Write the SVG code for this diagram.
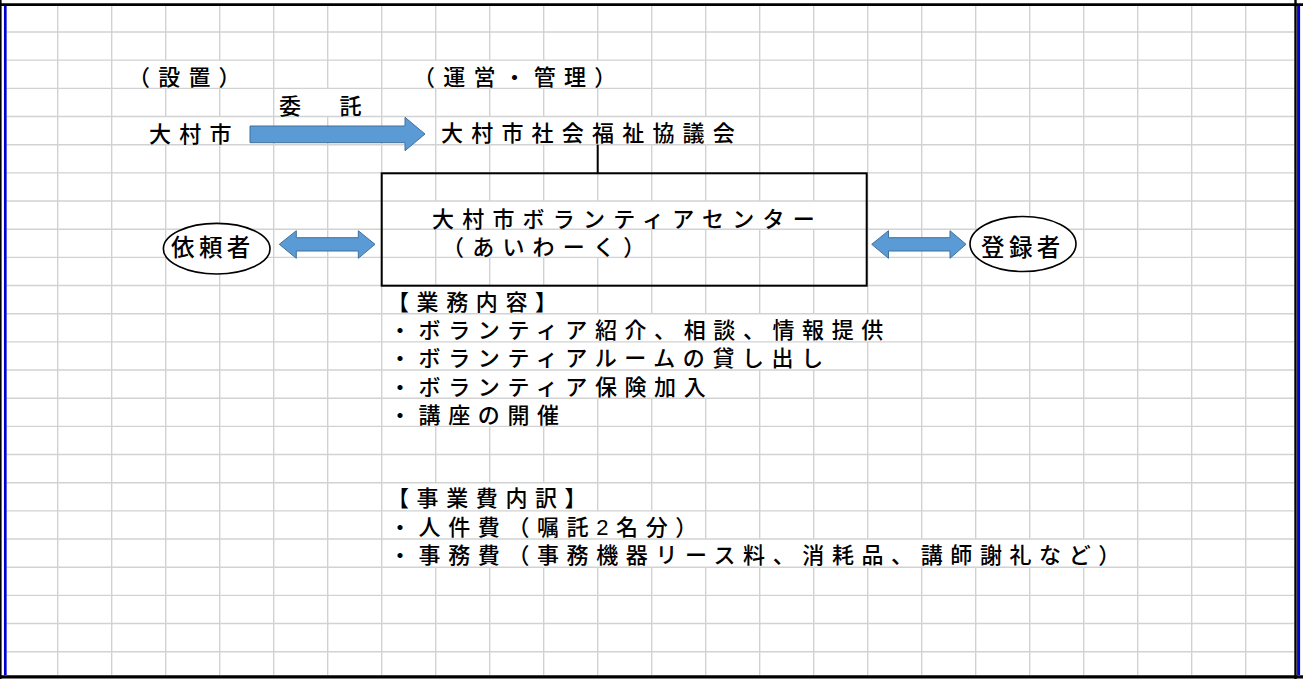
<svg xmlns="http://www.w3.org/2000/svg" width="1303" height="679" viewBox="0 0 1303 679">
<style>
.grid{stroke:#d2d2d2;stroke-width:1.4;fill:none}
.t{font-family:"Liberation Sans","Noto Sans CJK JP","Noto Sans CJK SC",sans-serif;font-size:22px;font-weight:500;letter-spacing:8.2px;fill:#000}
.b{letter-spacing:7.6px}
.e{font-size:23.5px;letter-spacing:4.4px}
.arrow{fill:#5b9bd5;stroke:#41719c;stroke-width:1}
.node{fill:#fff;stroke:#000;stroke-width:1.6}
.box{fill:none;stroke:#000;stroke-width:2}
</style>
<rect x="0" y="0" width="1303" height="679" fill="#fff"/>
<g id="grid" class="grid">
<path d="M7 32H1294M7 60.17H1294M7 88.34H1294M7 116.51H1294M7 144.68H1294M7 172.85H1294M7 201.02H1294M7 229.19H1294M7 257.36H1294M7 285.53H1294M7 313.7H1294M7 341.87H1294M7 370.04H1294M7 398.21H1294M7 426.38H1294M7 454.55H1294M7 482.72H1294M7 510.89H1294M7 539.06H1294M7 567.23H1294M7 595.4H1294M7 623.57H1294M7 651.74H1294"/>
<path d="M57.7 6V675M111.7 6V675M273.7 6V675M381.7 6V675M1137.7 6V675M1191.7 6V675M1245.7 6V675"/>
<path d="M165.7 6V60.17M165.7 88.34V116.51M165.7 144.68V675M219.7 6V60.17M219.7 88.34V116.51M219.7 144.68V675"/>
<path d="M327.7 6V88.34M327.7 116.51V675"/>
<path d="M435.7 6V60.17M435.7 88.34V201.02M435.7 229.19V285.53M435.7 426.38V482.72M435.7 567.23V675"/>
<path d="M489.7 6V60.17M489.7 88.34V116.51M489.7 144.68V201.02M489.7 257.36V285.53M489.7 426.38V482.72M489.7 567.23V675"/>
<path d="M543.7 6V60.17M543.7 88.34V116.51M543.7 144.68V201.02M543.7 257.36V285.53M543.7 426.38V482.72M543.7 567.23V675"/>
<path d="M597.7 6V60.17M597.7 88.34V116.51M597.7 144.68V201.02M597.7 257.36V313.7M597.7 398.21V510.89M597.7 567.23V675"/>
<path d="M651.7 6V116.51M651.7 144.68V201.02M651.7 229.19V313.7M651.7 398.21V510.89M651.7 567.23V675"/>
<path d="M705.7 6V116.51M705.7 144.68V201.02M705.7 229.19V313.7M705.7 398.21V539.06M705.7 567.23V675"/>
<path d="M759.7 6V201.02M759.7 229.19V313.7M759.7 370.04V539.06M759.7 567.23V675M813.7 6V201.02M813.7 229.19V313.7M813.7 370.04V539.06M813.7 567.23V675"/>
<path d="M867.7 6V313.7M867.7 341.87V539.06M867.7 567.23V675"/>
<path d="M921.7 6V539.06M921.7 567.23V675M975.7 6V539.06M975.7 567.23V675M1029.7 6V539.06M1029.7 567.23V675M1083.7 6V539.06M1083.7 567.23V675"/>
</g>
<g id="frame">
<line x1="0" y1="4.7" x2="1303" y2="4.7" stroke="#000" stroke-width="2.7"/>
<line x1="0" y1="676.8" x2="1303" y2="676.8" stroke="#000" stroke-width="3.3"/>
<line x1="0.8" y1="0" x2="0.8" y2="679" stroke="#000" stroke-width="1.6"/>
<line x1="5.3" y1="6" x2="5.3" y2="675" stroke="#0000d0" stroke-width="2.7"/>
<line x1="1295.5" y1="0" x2="1295.5" y2="679" stroke="#000" stroke-width="2.4"/>
<line x1="1298.6" y1="6" x2="1298.6" y2="675" stroke="#0000d0" stroke-width="3"/>
</g>
<g id="connectors">
<line x1="597.7" y1="144.7" x2="597.7" y2="173.3" stroke="#000" stroke-width="2"/>
<polygon class="arrow" points="250,126 405,126 405,117.3 425,134 405,150.7 405,142.7 250,142.7"/>
<polygon class="arrow" points="279.3,244.3 296.3,230.7 296.3,237.7 358.3,237.7 358.3,230.7 375,244.3 358.3,258.3 358.3,251 296.3,251 296.3,258.3"/>
<polygon class="arrow" points="871.7,244.3 888.5,230.7 888.5,237.7 950,237.7 950,230.7 966,244.3 950,258.3 950,251 888.5,251 888.5,258.3"/>
</g>
<g id="labels">
<text class="t" x="128" y="85">（設置）</text>
<text class="t" x="413" y="85">（運営・管理）</text>
<text class="t" x="279" y="114">委　託</text>
</g>
<g id="omura-city"><text class="t" x="149" y="142">大村市</text></g>
<g id="council"><text class="t" x="441" y="141">大村市社会福祉協議会</text></g>
<g id="center">
<rect class="box" x="381.7" y="173.3" width="485" height="112.4"/>
<text class="t"><tspan x="432" y="227">大村市ボランティアセンター</tspan><tspan x="442" y="255">（あいわーく）</tspan></text>
</g>
<g id="requester">
<ellipse class="node" cx="216.7" cy="248.7" rx="53.3" ry="25.3"/>
<text class="t e" x="171" y="256">依頼者</text>
</g>
<g id="registrant">
<ellipse class="node" cx="1023" cy="244" rx="53" ry="27.5"/>
<text class="t e" x="981" y="256">登録者</text>
</g>
<g id="duties">
<text class="t b"><tspan x="387" y="310">【業務内容】</tspan><tspan x="389" y="338">・ボランティア紹介、相談、情報提供</tspan><tspan x="389" y="366">・ボランティアルームの貸し出し</tspan><tspan x="389" y="395">・ボランティア保険加入</tspan><tspan x="389" y="423">・講座の開催</tspan></text>
</g>
<g id="costs">
<text class="t b"><tspan x="387" y="506">【事業費内訳】</tspan><tspan x="389" y="535">・人件費（嘱託2名分）</tspan><tspan x="389" y="563">・事務費（事務機器リース料、消耗品、講師謝礼など）</tspan></text>
</g>
</svg>
